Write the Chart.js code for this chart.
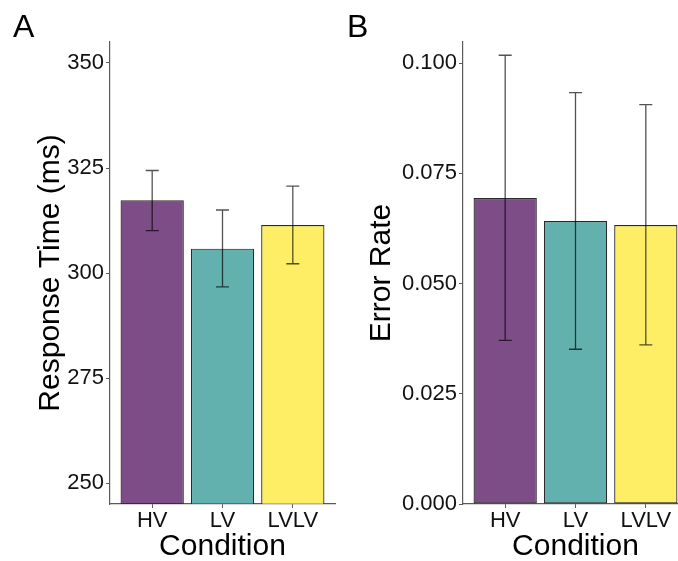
<!DOCTYPE html>
<html>
<head>
<meta charset="utf-8">
<script src="https://cdn.jsdelivr.net/npm/chart.js@4/dist/chart.umd.min.js"></script>
<style>
  html, body { margin:0; padding:0; background:#fff; width:678px; height:561px; overflow:hidden; }
  #wrap { position:relative; width:678px; height:561px; overflow:hidden; }
  canvas { position:absolute; top:0; }
  .lab { position:absolute; font-family:"Liberation Sans", Arial, sans-serif; font-size:32px; line-height:1; color:#000; }
</style>
</head>
<body>
<div id="wrap">
  <canvas id="cA" width="340" height="561" style="left:0;width:340px;height:561px"></canvas>
  <canvas id="cB" width="360" height="561" style="left:340px;width:360px;height:561px"></canvas>
  <div class="lab" style="left:13px;top:10px">A</div>
  <div class="lab" style="left:347px;top:10px">B</div>
</div>
<script>
// ---- data ----
const categories = ['HV', 'LV', 'LVLV'];
const categoryPos = [1, 2, 3];
const rtMean  = [317.3, 305.8, 311.4];
const rtLower = [310.1, 296.7, 302.2];
const rtUpper = [324.4, 315.0, 320.7];
const errMean  = [0.0694, 0.0642, 0.0633];
const errLower = [0.0371, 0.0351, 0.0361];
const errUpper = [0.1018, 0.0933, 0.0906];
const rtTicks  = [250, 275, 300, 325, 350];
const errTicks = [0.000, 0.025, 0.050, 0.075, 0.100];
const barColors = ['rgba(68,1,84,0.7)', 'rgba(33,144,140,0.7)', 'rgba(253,231,37,0.7)'];

const FONT = '"Liberation Sans", Arial, sans-serif';
const AXIS = '#5a5a5a';

const errorBarPlugin = {
  id: 'errorBars',
  afterDatasetsDraw(chart, args, opts) {
    const ctx = chart.ctx, xs = chart.scales.x, ys = chart.scales.y;
    ctx.save();
    ctx.strokeStyle = 'rgba(0,0,0,0.68)';
    ctx.lineWidth = 1.3;
    opts.lower.forEach((lo, i) => {
      const x = xs.getPixelForValue(categoryPos[i]);
      const y1 = ys.getPixelForValue(lo), y2 = ys.getPixelForValue(opts.upper[i]);
      const hw = 6.5;
      ctx.beginPath();
      ctx.moveTo(x, y1); ctx.lineTo(x, y2);
      ctx.moveTo(x - hw, y1); ctx.lineTo(x + hw, y1);
      ctx.moveTo(x - hw, y2); ctx.lineTo(x + hw, y2);
      ctx.stroke();
    });
    ctx.restore();
  }
};

function makeChart(id, means, lower, upper, yMin, yMax, yTicks, yTitle, fmt, yWidth, titlePad, padRight) {
  return new Chart(document.getElementById(id), {
    type: 'bar',
    data: {
      datasets: [{
        data: means.map((v, i) => ({ x: categoryPos[i], y: v })),
        backgroundColor: barColors,
        borderColor: '#2a2a2a',
        borderWidth: 1.2,
        borderSkipped: false,
        categoryPercentage: 1,
        barPercentage: 0.9
      }]
    },
    options: {
      responsive: false,
      animation: false,
      devicePixelRatio: 1,
      layout: { padding: { left: 0, right: padRight, top: 42, bottom: 0 } },
      plugins: {
        legend: { display: false },
        tooltip: { enabled: false },
        errorBars: { lower: lower, upper: upper }
      },
      scales: {
        x: {
          type: 'linear',
          offset: false,
          min: 0.4, max: 3.6,
          afterBuildTicks: s => { s.ticks = categoryPos.map(v => ({ value: v })); },
          afterFit: s => { s.height = 57; },
          ticks: {
            autoSkip: false, maxRotation: 0, padding: 0,
            color: '#111', font: { family: FONT, size: 22 },
            callback: v => categories[categoryPos.indexOf(v)]
          },
          grid: { display: true, offset: false, drawOnChartArea: false, drawTicks: true, tickLength: 4, color: AXIS, lineWidth: 1 },
          border: { display: true, color: AXIS, width: 1.2 },
          title: { display: true, text: 'Condition', color: '#000', font: { family: FONT, size: 30 }, padding: { top: 0, bottom: -4 } }
        },
        y: {
          min: yMin, max: yMax,
          afterBuildTicks: s => { s.ticks = yTicks.map(v => ({ value: v })); },
          afterFit: s => { s.width = yWidth; },
          ticks: {
            padding: 2, color: '#111', font: { family: FONT, size: 22 },
            callback: fmt
          },
          grid: { display: true, drawOnChartArea: false, drawTicks: true, tickLength: 4, color: AXIS, lineWidth: 1 },
          border: { display: true, color: AXIS, width: 1.2 },
          title: { display: true, text: yTitle, color: '#000', font: { family: FONT, size: 30 }, padding: { top: titlePad, bottom: 0 } }
        }
      }
    },
    plugins: [errorBarPlugin]
  });
}

makeChart('cA', rtMean, rtLower, rtUpper, 245, 355, rtTicks, 'Response Time (ms)', v => String(v), 110, 33, 5);
makeChart('cB', errMean, errLower, errUpper, 0, 0.1048, errTicks, 'Error Rate', v => Number(v).toFixed(3), 123, 24, 12);
</script>
</body>
</html>
